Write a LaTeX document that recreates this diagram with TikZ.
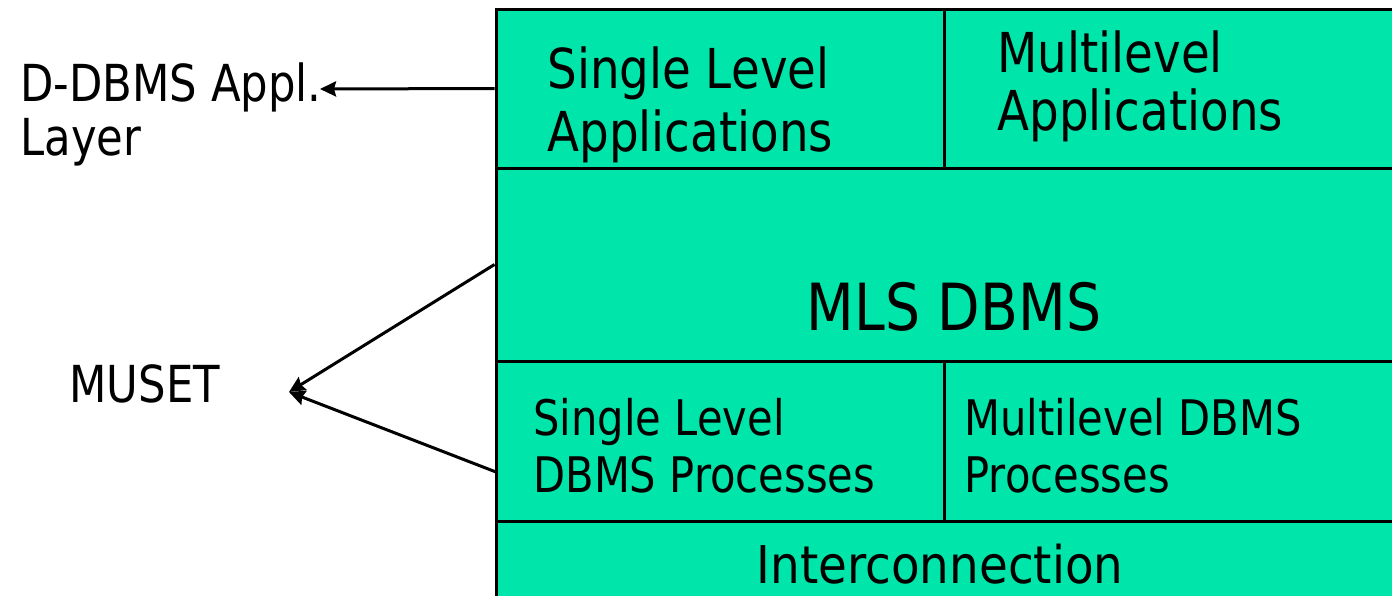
\documentclass[tikz,border=0pt]{standalone}
\usepackage{fontspec}
\setmainfont[FakeStretch=0.85]{DejaVu Sans}
\newfontfamily\widerfam[FakeStretch=0.90]{DejaVu Sans}
\usetikzlibrary{arrows.meta,fit}
\definecolor{layergreen}{RGB}{0,229,170}
\newcommand\lsz[2]{\fontsize{#1}{#2}\selectfont}
\begin{document}
\begin{tikzpicture}[x=0.5pt,y=-0.5pt,
  cell/.style={draw=black, line width=1.5pt, fill=layergreen, inner sep=0pt},
  lbl/.style={inner sep=0pt, align=left, anchor=base west, text=black},
  ctr/.style={inner sep=0pt, anchor=base, text=black},
  link/.style={line width=1.5pt, -{Stealth[length=8pt,width=7.5pt,inset=1pt]}}]
\useasboundingbox (0,0) rectangle (1392,595);
\clip (0,0) rectangle (1392,595);

% layer cells of the architecture stack
\node[cell, fit={(496,9) (944,168)}] (sla) {};
\node[cell, fit={(944,9) (1410,168)}] (mla) {};
\node[cell, fit={(496,168) (1410,361)}] (mls) {};
\node[cell, fit={(496,361) (944,521)}] (slp) {};
\node[cell, fit={(944,361) (1410,521)}] (mlp) {};
\node[cell, fit={(496,521) (1410,620)}] (icn) {};

% cell texts (anchored on the baseline of their last line)
\node[lbl, font=\lsz{27.5}{31.5}] (slat) at (547,151) {Single Level\\Applications};
\node[lbl, font=\lsz{27.5}{29}] (mlat) at (997,130) {Multilevel\\Applications};
\node[ctr, font=\lsz{32.5}{39}] (mlst) at (954,330) {MLS DBMS};
\node[lbl, font=\lsz{24.5}{28.5}] (slpt) at (533,492) {Single Level\\DBMS Processes};
\node[lbl, font=\lsz{24.5}{28.5}] (mlpt) at (964,492) {Multilevel DBMS\\Processes};
\node[ctr, font=\widerfam\lsz{26}{31}] (icnt) at (940,583) {Interconnection};

% side labels
\node[lbl, font=\lsz{25.5}{27}] (ddbms) at (20,155) {D-DBMS Appl.\\Layer};
\node[lbl, font=\lsz{25.5}{27}] (muset) at (69,402) {MUSET};

% connectors
\coordinate (dtip) at (320,89);
\coordinate (mtip) at (289,392);
\coordinate (plow) at (496,472);
\draw[link] (sla.west) -- (dtip);
\draw[link] (mls.west) -- (mtip);
\draw[link] (plow) -- (mtip);
\end{tikzpicture}
\end{document}
